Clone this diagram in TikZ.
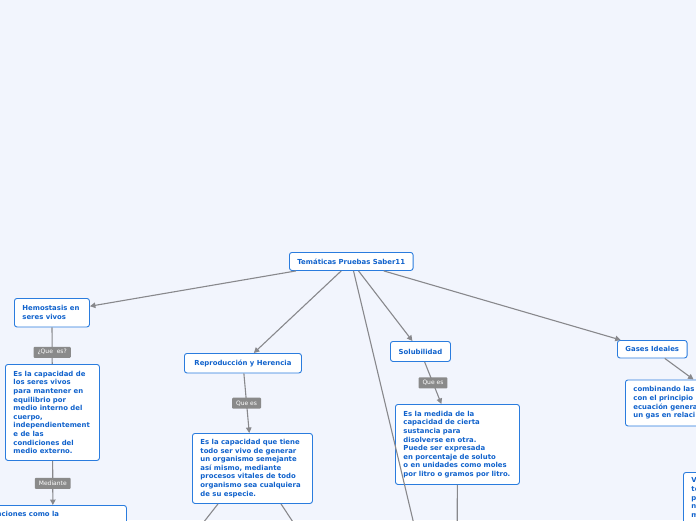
\documentclass[tikz,border=0pt]{standalone}
\usepackage{fontspec}
\setmainfont{DejaVu Sans}
\usetikzlibrary{arrows.meta}
\definecolor{bgcol}{RGB}{242,245,253}
\definecolor{boxline}{RGB}{42,124,222}
\definecolor{boxtext}{RGB}{16,98,204}
\definecolor{linkcol}{RGB}{136,136,140}
\definecolor{lblcol}{RGB}{138,138,138}
\newcommand{\firstline}[2]{\makebox[#1][l]{#2}}
\begin{document}
\begin{tikzpicture}[x=1pt,y=-1pt,
  topic/.style={draw=boxline, fill=white, line width=0.9pt, rounded corners=2.5pt,
    inner xsep=8pt, inner ysep=2pt, text=boxtext,
    font=\fontsize{6.9}{8.6}\selectfont\bfseries, anchor=north west},
  titlebox/.style={topic, align=center},
  descbox/.style={topic, align=left},
  link/.style={draw=linkcol, line width=1.1pt},
  arrowlink/.style={link, -{Triangle[length=5.5pt,width=5.5pt]}},
  lbl/.style={fill=lblcol, text=white, font=\fontsize{6}{7}\selectfont,
    inner xsep=4pt, inner ysep=0pt, minimum height=11pt, rounded corners=1pt}]
\useasboundingbox (0,0) rectangle (696,520);
\fill[bgcol] (0,0) rectangle (696,520);
\begin{scope}
\clip (0,0) rectangle (696,520);

% nodes
\node[titlebox, minimum width=123pt, minimum height=18pt] (central) at (289,252) {Temáticas Pruebas Saber11};

\node[descbox, minimum height=28.5pt] (hemo) at (14,298) {\firstline{59pt}{Hemostasis en}\\seres vivos};
\node[descbox, minimum height=96pt] (desc1) at (5,364) {\firstline{78pt}{Es la capacidad de}\\los seres vivos\\para mantener en\\equilibrio por\\medio interno del\\cuerpo,\\independientement\\e de las\\condiciones del\\medio externo.};
\node[descbox, inner ysep=6pt] (func) at (-21,505) {\firstline{131pt}{Funciones como la}\\ \\ \\};

\node[titlebox, minimum width=117pt, minimum height=19.5pt] (repro) at (184,353) {Reproducción y Herencia};
\node[descbox, minimum height=70pt] (desc2) at (192,433) {\firstline{104pt}{Es la capacidad que tiene}\\todo ser vivo de generar\\un organismo semejante\\así mismo, mediante\\procesos vitales de todo\\organismo sea cualquiera\\de su especie.};

\node[titlebox, minimum width=60pt, minimum height=20pt] (sol) at (390,341) {Solubilidad};
\node[descbox, minimum height=80pt] (desc3) at (395,404) {\firstline{108pt}{Es la medida de la}\\capacidad de cierta\\sustancia para\\disolverse en otra.\\Puede ser expresada\\en porcentaje de soluto\\o en unidades como moles\\por litro o gramos por litro.};

\node[titlebox, minimum width=68pt, minimum height=17.5pt] (gases) at (617,340) {Gases Ideales};
\node[descbox, minimum height=46pt] (comb) at (625,379.5) {\firstline{184pt}{combinando las}\\con el principio\\ecuación genera\\un gas en relaci};
\node[descbox, inner ysep=5.5pt] (right) at (683,472) {\firstline{84pt}{V}\\te\\p\\n\\m\\ \\};

% free ends
\coordinate (cDown) at (432,600);
\coordinate (repL) at (174,560);
\coordinate (repR) at (318,560);
\coordinate (solDown) at (457,600);

% connectors
\draw[arrowlink] (central) -- (hemo);
\draw[arrowlink] (central) -- (repro);
\draw[arrowlink] (central) -- (sol);
\draw[arrowlink] (central) -- (gases);
\draw[link] (central) -- (cDown);

\draw[link] (hemo) -- node[lbl, pos=0.68] {¿Que\ \ es?} (desc1);
\draw[arrowlink] (desc1) -- node[lbl, pos=0.51] {Mediante} (func);

\draw[arrowlink] (repro) -- node[lbl, pos=0.5] {Que es\ } (desc2);
\draw[link] ([xshift=26pt]desc2.south west) -- (repL);
\draw[link] ([xshift=89pt]desc2.south west) -- (repR);

\draw[arrowlink] (sol) -- node[lbl, pos=0.5] {Que es} (desc3);
\draw[link] (desc3) -- (solDown);

\draw[arrowlink] (gases) -- (comb);
\end{scope}
\end{tikzpicture}
\end{document}
